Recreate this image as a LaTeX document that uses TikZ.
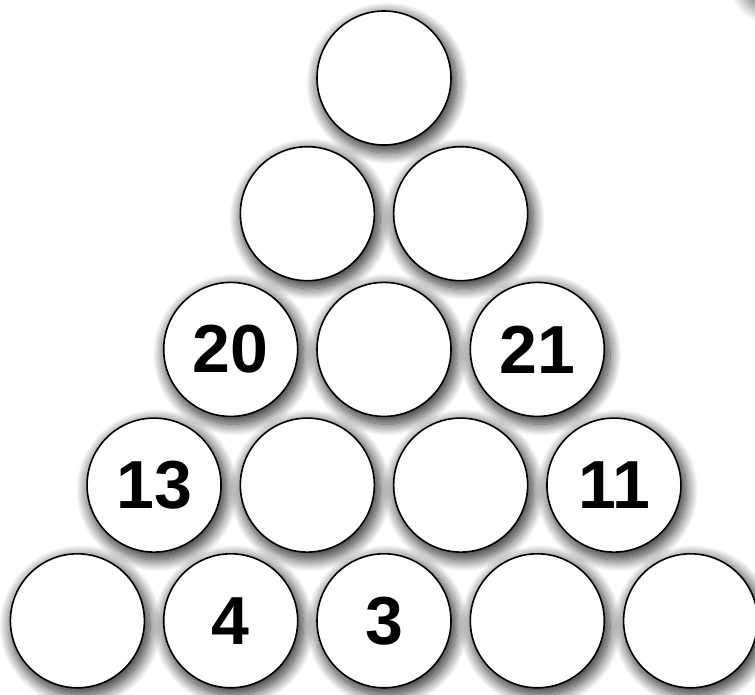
\documentclass[tikz,border=0pt]{standalone}
\usepackage{fontspec}
\newfontfamily\numfont{Liberation Sans}
\usetikzlibrary{shadows.blur}
\tikzstyle{ball}=[shape=circle, minimum size=134pt, inner sep=0, draw=black, line width=1.6pt, fill=white,
  blur shadow={shadow xshift=3pt, shadow yshift=-5pt, shadow scale=1.04, shadow blur radius=11pt, shadow blur steps=16, shadow opacity=80}]
\tikzstyle{num}=[font=\numfont\bfseries\fontsize{68}{68}\selectfont, inner sep=0]

\begin{document}
\begin{tikzpicture}[x=1pt, y=-1pt]
\useasboundingbox (0,0) rectangle (755,695);
\shade[inner color=black!90, outer color=white] (770,-18) circle (42pt);
\foreach \r in {1,...,5}
	{\foreach \k in {1,...,\r}
	{\path (384+153.3*\k-76.65*\r-76.65, 78+135.7*\r-135.7)
	node[ball] (c\r\k){};}}
\path (c31) node[num] (n20){20};
\path (c33) node[num] (n21){21};
\path (c41) node[num] (n13){13};
\path (c44) node[num] (n11){11};
\path (c52) node[num] (n4){4};
\path (c53) node[num] (n3){3};
\end{tikzpicture}
\end{document}
